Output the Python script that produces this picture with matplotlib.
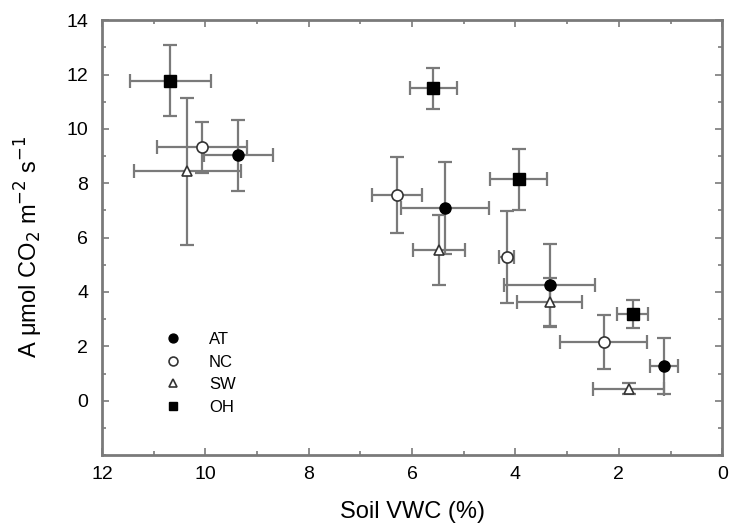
import numpy as np
import matplotlib
matplotlib.use('Agg')
import matplotlib.pyplot as plt
from matplotlib.ticker import MultipleLocator

plt.rcParams['font.family'] = ['Liberation Sans', 'DejaVu Sans']

# Datos
sitios = ['AT', 'NC', 'SW', 'OH']

at_x = [9.36, 5.36, 3.34, 1.13]
at_y = [9.03, 7.08, 4.26, 1.28]
at_xerr = [0.67, 0.85, 0.88, 0.27]
at_yerr = [1.3, 1.7, 1.5, 1.03]

nc_x = [10.06, 6.29, 4.17, 2.29]
nc_y = [9.32, 7.56, 5.28, 2.17]
nc_xerr = [0.87, 0.49, 0.15, 0.84]
nc_yerr = [0.95, 1.4, 1.7, 1.0]

sw_x = [10.35, 5.48, 3.34, 1.81]
sw_y = [8.44, 5.54, 3.63, 0.44]
sw_xerr = [1.04, 0.5, 0.63, 0.69]
sw_yerr = [2.7, 1.3, 0.9, 0.2]

oh_x = [10.68, 5.59, 3.94, 1.73]
oh_y = [11.78, 11.49, 8.15, 3.19]
oh_xerr = [0.78, 0.45, 0.55, 0.3]
oh_yerr = [1.3, 0.75, 1.12, 0.5]

series = [
    (at_x, at_y, at_xerr, at_yerr),
    (nc_x, nc_y, nc_xerr, nc_yerr),
    (sw_x, sw_y, sw_xerr, sw_yerr),
    (oh_x, oh_y, oh_xerr, oh_yerr),
]

# Estilo de cada marcador
estilos = [
    dict(marker='o', mfc='black', mec='black', ms=8),
    dict(marker='o', mfc='white', mec='#333333', ms=8, mew=1.2),
    dict(marker='^', mfc='white', mec='#333333', ms=6.5, mew=1.2),
    dict(marker='s', mfc='black', mec='black', ms=8),
]

gris = '#7a7a7a'

fig = plt.figure(figsize=(7.31, 5.31), dpi=100)
ax = fig.add_axes([0.1395, 0.143, 0.8485, 0.819])

for (x, y, xe, ye), nombre, est in zip(series, sitios, estilos):
    ax.errorbar(x, y, xerr=xe, yerr=ye, fmt='none', ecolor=gris,
                elinewidth=1.6, capsize=5, capthick=1.6, zorder=2)
    ax.plot(x, y, ls='none', zorder=3, **est)

# Leyenda con solo marcadores
handles = []
for nombre, est in zip(sitios, estilos):
    e = dict(est)
    e['ms'] = e['ms'] * 0.8
    h, = ax.plot([], [], ls='none', label=nombre, **e)
    handles.append(h)
ax.legend(handles=handles, frameon=False, loc='upper left',
          bbox_to_anchor=(0.088, 0.302), fontsize=12, handlelength=1.0,
          handletextpad=1.65, labelspacing=0.45, borderpad=0)

ax.set_xlim(12, 0)
ax.set_ylim(-2, 14)
ax.xaxis.set_major_locator(MultipleLocator(2))
ax.xaxis.set_minor_locator(MultipleLocator(1))
ax.set_yticks(np.arange(0, 15, 2))
ax.yaxis.set_minor_locator(MultipleLocator(1))

ax.tick_params(which='both', direction='in', top=True, right=True,
               color=gris, width=1.2)
ax.tick_params(which='major', length=5, labelsize=14, pad=8)
ax.tick_params(which='minor', length=3)
ax.tick_params(axis='y', pad=10)
for sp in ax.spines.values():
    sp.set_color(gris)
    sp.set_linewidth(2)

ax.set_xlabel('Soil VWC (%)', fontsize=17)
ax.set_ylabel(r'A $\mathregular{\mu}$mol CO$_2$ m$^{-2}$ s$^{-1}$',
              fontsize=17)
ax.xaxis.set_label_coords(0.5, -0.105)
ax.yaxis.set_label_coords(-0.092, 0.48)

fig.savefig('out.png', dpi=100)
